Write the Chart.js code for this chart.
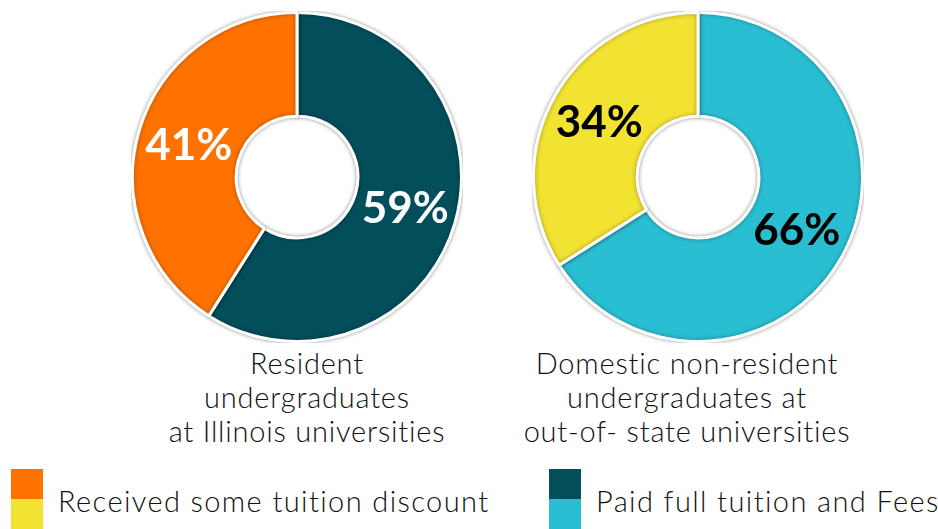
<!DOCTYPE html>
<html>
<head>
<meta charset="utf-8">
<script src="https://cdn.jsdelivr.net/npm/chart.js@4/dist/chart.umd.min.js"></script>
<style>
  body { margin: 0; background: #fff; width: 938px; height: 529px; position: relative; overflow: hidden; font-family: Lato, "Open Sans", sans-serif; font-weight: 300; color: #111; }
  .box { position: absolute; top: 11px; width: 332px; height: 332px; }
  .caption { position: absolute; top: 346px; width: 420px; text-align: center; font-size: 29px; line-height: 34px; letter-spacing: 0.8px; }
  .sq { position: absolute; width: 32px; height: 30px; }
  .leg { position: absolute; top: 484px; font-size: 29px; line-height: 34px; white-space: nowrap; letter-spacing: 1.4px; }
</style>
</head>
<body>
<div class="box" style="left:131px"><canvas id="residentChart"></canvas></div>
<div class="box" style="left:532px"><canvas id="nonResidentChart"></canvas></div>

<div class="caption" style="left:97px">Resident<br>undergraduates<br>at Illinois universities</div>
<div class="caption" style="left:477px">Domestic non-resident<br>undergraduates at<br>out-of- state universities</div>

<div class="sq" style="left:11px;top:469px;background:#FF7200"></div>
<div class="sq" style="left:11px;top:499px;background:#F2E232"></div>
<div class="leg" style="left:58px">Received some tuition discount</div>
<div class="sq" style="left:549px;top:469px;background:#024E5B"></div>
<div class="sq" style="left:549px;top:499px;background:#2ABED3"></div>
<div class="leg" style="left:596px">Paid full tuition and Fees</div>

<script>
// data, paid full first so it starts at 12 o'clock and runs clockwise
const categories = ['Paid full tuition and Fees', 'Received some tuition discount'];
const residentValues = [59, 41];
const nonResidentValues = [66, 34];
const residentColors = ['#024E5B', '#FF7200'];
const nonResidentColors = ['#2ABED3', '#F2E232'];

// small shadow behind the slices
const shadowPlugin = {
    id: 'sliceShadow',
    beforeDatasetDraw(chart) {
        const ctx = chart.ctx;
        ctx.save();
        ctx.shadowColor = 'rgba(0,0,0,0.35)';
        ctx.shadowBlur = 4;
    },
    afterDatasetDraw(chart) {
        chart.ctx.restore();
    }
};

// percent labels in the middle of each ring slice
const pctLabels = {
    id: 'pctLabels',
    afterDatasetsDraw(chart, args, opts) {
        const ctx = chart.ctx;
        const meta = chart.getDatasetMeta(0);
        const values = chart.data.datasets[0].data;
        ctx.save();
        ctx.font = 'bold 44px Lato, sans-serif';
        ctx.fillStyle = opts.color;
        ctx.textAlign = 'center';
        ctx.textBaseline = 'middle';
        meta.data.forEach(function (arc, i) {
            const p = arc.tooltipPosition();
            ctx.fillText(values[i] + '%', p.x, p.y);
        });
        ctx.restore();
    }
};

function makeDoughnut(id, values, colors, labelColor) {
    return new Chart(document.getElementById(id), {
        type: 'doughnut',
        data: {
            labels: categories,
            datasets: [{
                data: values,
                backgroundColor: colors,
                borderColor: '#ffffff',
                borderWidth: 3
            }]
        },
        options: {
            responsive: true,
            maintainAspectRatio: false,
            animation: false,
            cutout: '37%',
            layout: { padding: 0 },
            plugins: {
                legend: { display: false },
                tooltip: { enabled: false },
                pctLabels: { color: labelColor }
            }
        },
        plugins: [shadowPlugin, pctLabels]
    });
}

makeDoughnut('residentChart', residentValues, residentColors, '#ffffff');
makeDoughnut('nonResidentChart', nonResidentValues, nonResidentColors, '#000000');
</script>
</body>
</html>
